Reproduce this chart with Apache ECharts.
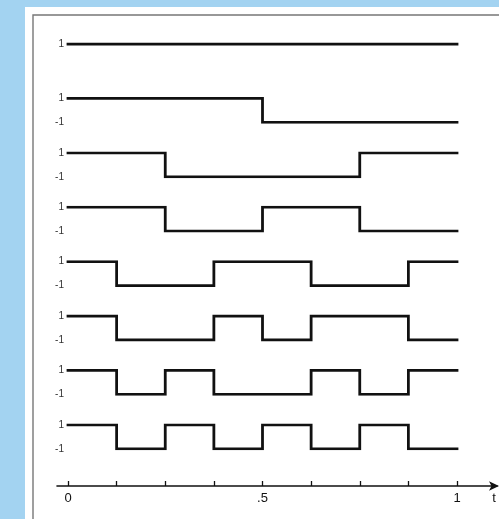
<!DOCTYPE html>
<html>
<head>
<meta charset="utf-8">
<script src="https://cdn.jsdelivr.net/npm/echarts@6/dist/echarts.min.js"></script>
<style>
  html, body { margin: 0; padding: 0; background: #a3d3f1; }
  #chart { width: 499px; height: 519px; }
</style>
</head>
<body>
<div id="chart"></div>
<script>
// Walsh functions in sequency order, one value per 1/8 of the interval [0, 1]
const segmentStarts = [0, 0.125, 0.25, 0.375, 0.5, 0.625, 0.75, 0.875];
const walsh0 = [1, 1, 1, 1, 1, 1, 1, 1];
const walsh1 = [1, 1, 1, 1, -1, -1, -1, -1];
const walsh2 = [1, 1, -1, -1, -1, -1, 1, 1];
const walsh3 = [1, 1, -1, -1, 1, 1, -1, -1];
const walsh4 = [1, -1, -1, 1, 1, -1, -1, 1];
const walsh5 = [1, -1, -1, 1, -1, 1, 1, -1];
const walsh6 = [1, -1, 1, -1, -1, 1, -1, 1];
const walsh7 = [1, -1, 1, -1, 1, -1, 1, -1];
const rows = [walsh0, walsh1, walsh2, walsh3, walsh4, walsh5, walsh6, walsh7];

// time axis ticks and labels
const tickValues = [0, 0.125, 0.25, 0.375, 0.5, 0.625, 0.75, 0.875, 1];
const labelValues = [0, 0.5, 1];
const labelTexts = ['0', '.5', '1'];

// layout
const W = 499, H = 519;
const plotLeft = 68, plotRight = 457;   // pixel span of t = 0 .. 1
const firstTop = 44, rowStep = 54.4, rowHeight = 24;
const axisLeft = 57, axisRight = 497, axisY = 486;
const pxPerUnit = plotRight - plotLeft;
const axisMin = -(plotLeft - axisLeft) / pxPerUnit;
const axisMax = 1 + (axisRight - plotRight) / pxPerUnit;

const grids = [], xAxes = [], yAxes = [], series = [];

rows.forEach((vals, k) => {
  const top = firstTop + rowStep * k;
  grids.push({ left: plotLeft, width: pxPerUnit, top: top, height: rowHeight });
  xAxes.push({ gridIndex: k, type: 'value', min: 0, max: 1, show: false });
  yAxes.push({
    gridIndex: k, type: 'value', min: -1, max: 1,
    splitLine: { show: false }, axisLine: { show: false }, axisTick: { show: false },
    axisLabel: {
      customValues: k === 0 ? [1] : [-1, 1],
      formatter: v => String(v),
      margin: 4, fontSize: 10, color: '#333', fontFamily: 'Liberation Sans'
    }
  });
  const pts = segmentStarts.map((t, i) => [t, vals[i]]);
  pts.push([1, vals[vals.length - 1]]);
  series.push({
    type: 'line', step: 'end', xAxisIndex: k, yAxisIndex: k,
    data: pts, symbol: 'none', silent: true,
    lineStyle: { color: '#111', width: 2.8, cap: 'square', join: 'miter' }
  });
});

// time axis with arrow
const ai = rows.length;
grids.push({ left: axisLeft, width: axisRight - axisLeft, top: axisY - 10, height: 10 });
xAxes.push({
  gridIndex: ai, type: 'value', min: axisMin, max: axisMax,
  splitLine: { show: false },
  axisLine: { show: true, lineStyle: { color: '#111', width: 1.6 },
              symbol: ['none', 'arrow'], symbolSize: [7, 10], symbolOffset: [0, 2] },
  axisTick: { show: true, inside: true, length: 5, customValues: tickValues,
              lineStyle: { color: '#111', width: 1.3 } },
  axisLabel: {
    customValues: labelValues,
    formatter: v => labelTexts[labelValues.indexOf(v)] ?? '',
    margin: 6, fontSize: 13, color: '#111', fontFamily: 'Liberation Sans'
  },
  name: 't', nameLocation: 'end', nameGap: -3,
  nameTextStyle: { fontSize: 13, color: '#111', fontFamily: 'Liberation Sans',
                   align: 'center', verticalAlign: 'top', padding: [6, 0, 0, 0] }
});
yAxes.push({ gridIndex: ai, type: 'value', show: false });

const chart = echarts.init(document.getElementById('chart'), null, { renderer: 'canvas' });
chart.setOption({
  backgroundColor: '#a3d3f1',
  animation: false,
  graphic: [
    { type: 'rect', z: -10, shape: { x: 25, y: 7, width: W - 25, height: H - 7 },
      style: { fill: '#ffffff' } },
    { type: 'rect', z: -9, shape: { x: 33, y: 15, width: W, height: H },
      style: { fill: 'none', stroke: '#777', lineWidth: 1.4 } }
  ],
  grid: grids,
  xAxis: xAxes,
  yAxis: yAxes,
  series: series
});
</script>
</body>
</html>
